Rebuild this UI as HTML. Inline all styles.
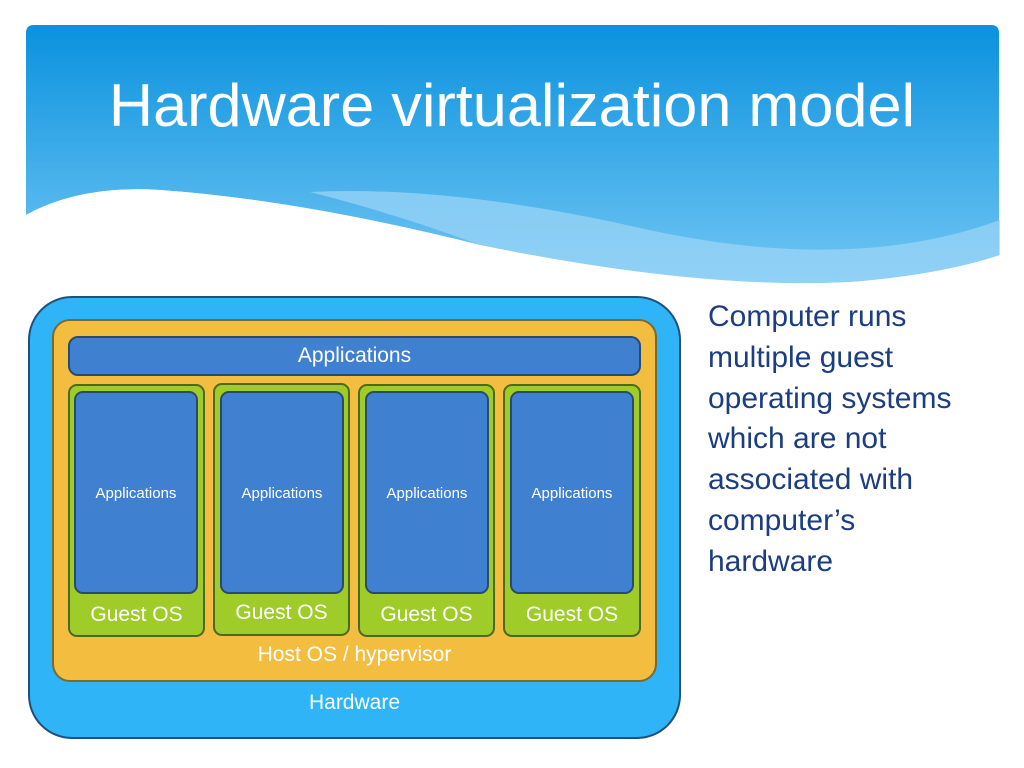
<!DOCTYPE html>
<html><head><style>
body{margin:0;width:1024px;height:768px;background:#fff;position:relative;overflow:hidden;font-family:"Liberation Sans",sans-serif}
.a{position:absolute;box-sizing:border-box}
.t{position:absolute;color:#fff;text-align:center;white-space:nowrap}
</style></head><body>
<svg class="a" style="left:0;top:0" width="1024" height="300">
<defs><linearGradient id="g" x1="0" y1="0" x2="0" y2="1">
<stop offset="0" stop-color="#0a92de"/><stop offset="1" stop-color="#72c6f4"/></linearGradient></defs>
<path d="M34 25 H991 Q999 25 999 33 V285 H26 V33 Q26 25 34 25Z" fill="url(#g)"/>
<path d="M26 215 Q80 185 160 190 Q300 200 480 245 Q700 290 850 282 Q940 275 1000 255 V300 H26Z" fill="#fff"/>
<path d="M310 192 Q450 185 640 228 Q850 275 1000 220 V255 Q940 275 850 282 Q700 290 480 245 Q400 215 310 192Z" fill="#9ed6f6" opacity="0.7"/>
<path d="M26 215 Q80 185 160 190 Q300 200 480 245 Q700 290 850 282 Q940 275 1000 255 V300 H26Z" fill="#fff"/>
</svg>
<div class="t" style="left:0;width:1024px;top:71px;font-size:60px;transform:scaleX(1.02)">Hardware virtualization model</div>
<div class="a" style="left:28px;top:296px;width:653px;height:443px;border-radius:44px;background:#2fb4f8;border:2px solid #1f4f7a"></div>
<div class="a" style="left:52px;top:319px;width:605px;height:363px;border-radius:18px;background:#f3be40;border:2px solid #7a6a30"></div>
<div class="a" style="left:68px;top:336px;width:573px;height:40px;border-radius:10px;background:#4080d0;border:2px solid #2a4a70"></div>
<div class="t" style="left:68px;width:573px;top:344px;font-size:21px">Applications</div>
<div class="a" style="left:68px;top:384px;width:137px;height:253px;border-radius:9px;background:#a0cc2a;border:2px solid #4a6a20"></div>
<div class="a" style="left:213px;top:383px;width:137px;height:253px;border-radius:9px;background:#a0cc2a;border:2px solid #4a6a20"></div>
<div class="a" style="left:358px;top:384px;width:137px;height:253px;border-radius:9px;background:#a0cc2a;border:2px solid #4a6a20"></div>
<div class="a" style="left:503px;top:384px;width:138px;height:253px;border-radius:9px;background:#a0cc2a;border:2px solid #4a6a20"></div>
<div class="a" style="left:74px;top:391px;width:124px;height:203px;border-radius:9px;background:#4080d0;border:2px solid #2a4a70"></div>
<div class="a" style="left:220px;top:391px;width:124px;height:203px;border-radius:9px;background:#4080d0;border:2px solid #2a4a70"></div>
<div class="a" style="left:365px;top:391px;width:124px;height:203px;border-radius:9px;background:#4080d0;border:2px solid #2a4a70"></div>
<div class="a" style="left:510px;top:391px;width:124px;height:203px;border-radius:9px;background:#4080d0;border:2px solid #2a4a70"></div>
<div class="t" style="left:74px;width:124px;top:485px;font-size:15px">Applications</div>
<div class="t" style="left:220px;width:124px;top:485px;font-size:15px">Applications</div>
<div class="t" style="left:365px;width:124px;top:485px;font-size:15px">Applications</div>
<div class="t" style="left:510px;width:124px;top:485px;font-size:15px">Applications</div>
<div class="t" style="left:68px;width:137px;top:603px;font-size:21px">Guest OS</div>
<div class="t" style="left:213px;width:137px;top:601px;font-size:21px">Guest OS</div>
<div class="t" style="left:358px;width:137px;top:603px;font-size:21px">Guest OS</div>
<div class="t" style="left:503px;width:138px;top:603px;font-size:21px">Guest OS</div>
<div class="t" style="left:52px;width:605px;top:643px;font-size:21px">Host OS / hypervisor</div>
<div class="t" style="left:28px;width:653px;top:691px;font-size:21px">Hardware</div>
<div class="a" style="left:708px;top:297px;font-size:30px;line-height:40.8px;color:#1b3d82;white-space:nowrap">Computer runs<br>multiple guest<br>operating systems<br>which are not<br>associated with<br>computer’s<br>hardware</div>
</body></html>
